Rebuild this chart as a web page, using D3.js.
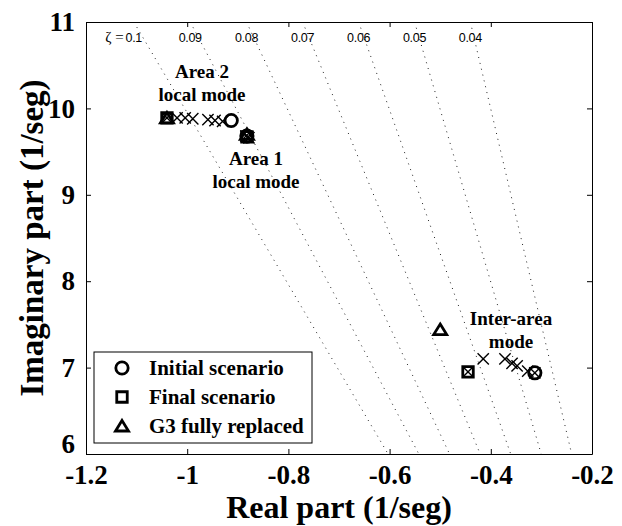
<!DOCTYPE html>
<html>
<head>
<meta charset="utf-8">
<script src="https://cdn.jsdelivr.net/npm/d3@7"></script>
<style>
  body { margin: 0; background: #fff; }
  svg { display: block; }
  .serif { font-family: "Liberation Serif", "Times New Roman", serif; font-weight: bold; }
</style>
</head>
<body>
<div id="chart"></div>
<script>
// damping ratio lines
const zetas = [0.1, 0.09, 0.08, 0.07, 0.06, 0.05, 0.04];

// poles per scenario: local mode area 2, local mode area 1, inter-area
const initialRe = [-0.913, -0.882, -0.313];
const initialIm = [9.86, 9.68, 6.94];
const finalRe = [-1.040, -0.882, -0.445];
const finalIm = [9.89, 9.67, 6.95];
const g3Re = [-1.040, -0.882, -0.500];
const g3Im = [9.89, 9.70, 7.44];

// intermediate steps (x markers)
const stepRe = [-1.040, -1.020, -1.004, -0.989, -0.959, -0.945, -0.930,
                -0.884, -0.880, -0.878,
                -0.445, -0.415, -0.372, -0.358, -0.348, -0.327, -0.313];
const stepIm = [9.89, 9.89, 9.89, 9.88, 9.87, 9.86, 9.85,
                9.68, 9.67, 9.66,
                6.95, 7.10, 7.10, 7.05, 7.02, 6.96, 6.94];

const xTicks = [-1.2, -1, -0.8, -0.6, -0.4, -0.2];
const yTicks = [6, 7, 8, 9, 10, 11];
const legendLabels = ['Initial scenario', 'Final scenario', 'G3 fully replaced'];

const width = 622, height = 526;
const margin = {top: 22, right: 30, bottom: 72, left: 86};

const x = d3.scaleLinear().domain([-1.2, -0.2]).range([margin.left, width - margin.right]);
const y = d3.scaleLinear().domain([6, 11]).range([height - margin.bottom, margin.top]);

const svg = d3.select('#chart').append('svg')
  .attr('width', width)
  .attr('height', height);

svg.append('defs').append('clipPath')
    .attr('id', 'plot-clip')
  .append('rect')
    .attr('x', x(-1.2)).attr('y', y(11))
    .attr('width', x(-0.2) - x(-1.2))
    .attr('height', y(6) - y(11));

// dotted constant-damping lines
const zetaRe = (z, im) => -im * z / Math.sqrt(1 - z * z);
svg.append('g')
    .attr('clip-path', 'url(#plot-clip)')
  .selectAll('line')
  .data(zetas)
  .join('line')
    .attr('x1', d => x(zetaRe(d, 11)))
    .attr('y1', y(11))
    .attr('x2', d => x(zetaRe(d, 6)))
    .attr('y2', y(6))
    .attr('stroke', '#222')
    .attr('stroke-width', 1)
    .attr('stroke-dasharray', '1,5');

// zeta labels along the top
svg.selectAll('.zlabel')
  .data(zetas)
  .join('text')
    .attr('class', 'zlabel')
    .attr('x', d => x(zetaRe(d, 11)))
    .attr('y', 42)
    .attr('text-anchor', 'middle')
    .style('font-family', '"Liberation Sans", Arial, sans-serif')
    .style('font-size', '12.5px')
    .style('letter-spacing', '-0.3px')
    .text(d => String(d));
svg.append('text')
    .attr('x', x(zetaRe(0.1, 11)) - 10)
    .attr('y', 42)
    .attr('text-anchor', 'end')
    .style('font-family', '"Liberation Serif", serif')
    .style('font-size', '15px')
    .text('ζ =');

// axes (MATLAB-style box with inward ticks)
const xAxis = d3.axisBottom(x).tickValues(xTicks).tickSizeInner(-5).tickSizeOuter(0)
  .tickPadding(11).tickFormat(d => String(d));
const yAxis = d3.axisLeft(y).tickValues(yTicks).tickSizeInner(-5).tickSizeOuter(0)
  .tickPadding(11).tickFormat(d3.format('d'));

const gx = svg.append('g')
    .attr('transform', `translate(0,${y(6)})`)
    .call(xAxis);
gx.selectAll('text').attr('class', 'serif').style('font-size', '27px').attr('fill', '#000');

const gy = svg.append('g')
    .attr('transform', `translate(${x(-1.2)},0)`)
    .call(yAxis);
gy.selectAll('text').attr('class', 'serif').style('font-size', '27px').attr('fill', '#000');
gy.selectAll('.tick').filter(d => d === 6).select('text').attr('dy', '-0.05em');

svg.append('g')
    .attr('transform', `translate(0,${y(11)})`)
    .call(d3.axisTop(x).tickValues(xTicks).tickSizeInner(-5).tickSizeOuter(0).tickFormat(''));
svg.append('g')
    .attr('transform', `translate(${x(-0.2)},0)`)
    .call(d3.axisRight(y).tickValues(yTicks).tickSizeInner(-5).tickSizeOuter(0).tickFormat(''));

svg.selectAll('.domain, .tick line').attr('stroke', '#000');

// axis titles
svg.append('text')
    .attr('class', 'serif')
    .attr('x', (x(-1.2) + x(-0.2)) / 2)
    .attr('y', 518)
    .attr('text-anchor', 'middle')
    .style('font-size', '32px')
    .text('Real part (1/seg)');
svg.append('text')
    .attr('class', 'serif')
    .attr('transform', `translate(43,${(y(6) + y(11)) / 2}) rotate(-90)`)
    .attr('text-anchor', 'middle')
    .style('font-size', '33px')
    .text('Imaginary part (1/seg)');

// marker shapes
const circleSym = d3.symbol().type(d3.symbolCircle).size(120);
const squareSym = d3.symbol().type(d3.symbolSquare).size(110);
const triSym = 'M0,-5.5L6.5,5L-6.5,5Z';
const crossSym = d3.symbol().type(d3.symbolTimes).size(85);

const marks = svg.append('g').attr('clip-path', 'url(#plot-clip)');

marks.selectAll('.step')
  .data(stepRe.map((r, i) => [r, stepIm[i]]))
  .join('path')
    .attr('class', 'step')
    .attr('d', crossSym)
    .attr('transform', d => `translate(${x(d[0])},${y(d[1])})`)
    .attr('fill', 'none').attr('stroke', '#000').attr('stroke-width', 1.4);

function drawMarks(re, im, sym) {
  marks.append('g').selectAll('path')
    .data(re.map((r, i) => [r, im[i]]))
    .join('path')
      .attr('d', sym)
      .attr('transform', d => `translate(${x(d[0])},${y(d[1])})`)
      .attr('fill', 'none').attr('stroke', '#000').attr('stroke-width', 2.8);
}
drawMarks(initialRe, initialIm, circleSym);
drawMarks(finalRe, finalIm, squareSym);
drawMarks(g3Re, g3Im, triSym);

// annotations
const notes = [
  {lines: ['Area 2', 'local mode'], cx: 202, y0: 78},
  {lines: ['Area 1', 'local mode'], cx: 256, y0: 165},
  {lines: ['Inter-area', 'mode'], cx: 511, y0: 325}
];
notes.forEach(n => {
  n.lines.forEach((t, i) => {
    svg.append('text')
      .attr('class', 'serif')
      .attr('x', n.cx)
      .attr('y', n.y0 + i * 23)
      .attr('text-anchor', 'middle')
      .style('font-size', '19px')
      .text(t);
  });
});

// legend
const legend = svg.append('g');
legend.append('rect')
    .attr('x', 94).attr('y', 352)
    .attr('width', 218).attr('height', 91)
    .attr('fill', '#fff').attr('stroke', '#000').attr('stroke-width', 1);
const legendSyms = [circleSym, squareSym, triSym];
legendLabels.forEach((t, i) => {
  const cy = 368 + i * 29;
  legend.append('path')
    .attr('d', legendSyms[i])
    .attr('transform', `translate(122,${cy})`)
    .attr('fill', 'none').attr('stroke', '#000').attr('stroke-width', 2.8);
  legend.append('text')
    .attr('class', 'serif')
    .attr('x', 149)
    .attr('y', cy + 7)
    .style('font-size', '21px')
    .text(t);
});
</script>
</body>
</html>
